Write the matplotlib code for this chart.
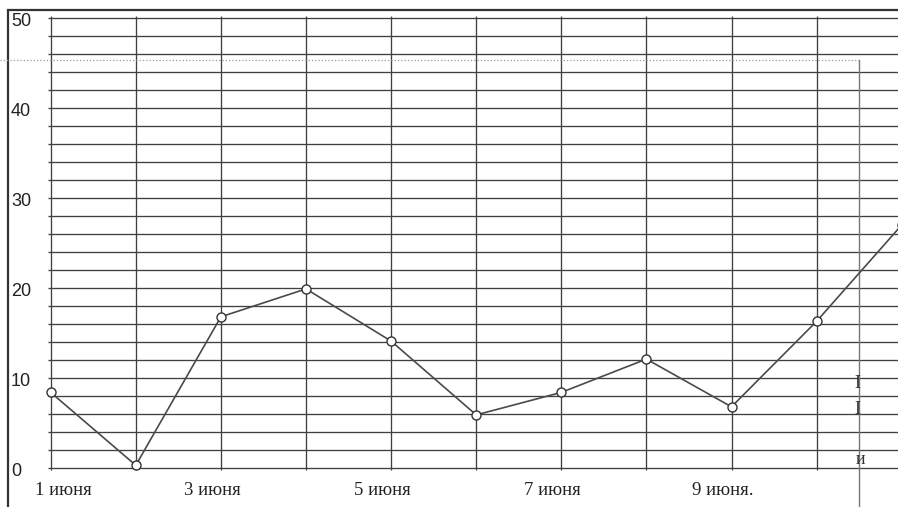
'''
Температура по дням (июнь) - воспроизведение графика
'''

import matplotlib.pyplot as plt
import numpy

# данные
days = ['1 июня', '2 июня', '3 июня', '4 июня', '5 июня', '6 июня',
        '7 июня', '8 июня', '9 июня', '10 июня', '11 июня']
values = [8.4, 0.3, 16.8, 19.9, 14.1, 5.9, 8.4, 12.1, 6.8, 16.3, 27.0]
x_labels = ['1 июня', '3 июня', '5 июня', '7 июня', '9 июня.']
y_labels = [0, 10, 20, 30, 40, 50]
grid_step = 2
grid_top = 50
grid_columns = 10


def main():
    fig = plt.figure(figsize=(8.98, 5.07), dpi=100)
    ax = fig.add_axes([0, 0, 1, 1])
    ax.axis('off')

    # пиксели -> данные: x = 50.7 + 85.1 * i, y = 468 - 9 * v
    ax.set_xlim(-50.7 / 85.1, (898 - 50.7) / 85.1)
    ax.set_ylim((468 - 507) / 9, 468 / 9)

    grid_color = '#404040'

    # горизонтальная сетка
    levels = numpy.arange(0, grid_top + grid_step, grid_step)
    ax.hlines(levels, -0.03, 10.5, colors=grid_color, linewidth=0.95, zorder=1)

    # вертикальная сетка
    cols = numpy.arange(grid_columns)
    ax.vlines(cols, -0.25, grid_top + 0.2, colors=grid_color, linewidth=0.95, zorder=1)

    # рамка листа
    x_border = (8 - 50.7) / 85.1
    y_border = (468 - 10) / 9
    ax.plot([x_border, x_border], [y_border, -5], color='#333333', linewidth=1.6,
            solid_capstyle='butt', zorder=1)
    ax.plot([x_border, 10.5], [y_border, y_border], color='#333333', linewidth=1.6,
            zorder=1)

    # пунктир и линия справа (следы разметки)
    x_mark = (859 - 50.7) / 85.1
    y_mark = (468 - 60) / 9
    ax.plot([-0.6, x_mark], [y_mark, y_mark], color='#999999', linewidth=0.9,
            linestyle=':', zorder=1)
    ax.plot([x_mark, x_mark], [y_mark, -5], color='#777777', linewidth=1.0, zorder=1)
    ax.text(x_mark - 0.02, 9.4, 'I', fontsize=13, family='Liberation Serif',
            ha='center', va='center', color='#333333')
    ax.text(x_mark - 0.02, 6.5, 'I', fontsize=13, family='Liberation Serif',
            ha='center', va='center', color='#333333')
    ax.text(x_mark + 0.02, 0.9, 'и', fontsize=13, family='Liberation Serif',
            ha='center', va='center', color='#333333')

    # линия графика
    x = numpy.arange(len(values))
    ax.plot(x, values, color='#4a4a4a', linewidth=1.2, marker='o', markersize=6.5,
            markerfacecolor='white', markeredgecolor='#333333', markeredgewidth=1.0,
            zorder=3, clip_on=True)

    # подписи оси Y
    for v in y_labels:
        ax.text((11 - 50.7) / 85.1, v - 0.4, str(v), fontsize=13, family='Liberation Sans',
                ha='left', va='center', color='#222222')

    # подписи оси X
    for i, label in enumerate(x_labels):
        ax.text(2 * i - 0.1 + (0.25 if i == 0 else 0), -2.45, label, fontsize=13.5,
                family='Liberation Serif', ha='center', va='center', color='#222222')

    plt.savefig('out.png', dpi=100)


if __name__ == '__main__':
    main()
